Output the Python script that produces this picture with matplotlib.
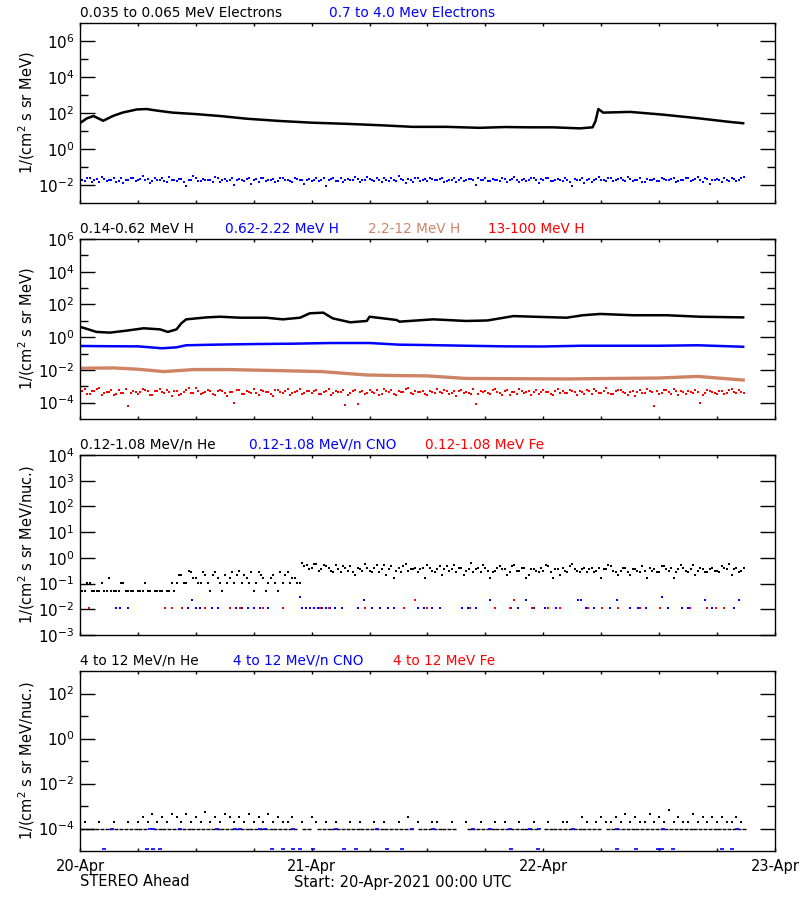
import numpy as np
import matplotlib
matplotlib.use("Agg")
import matplotlib.pyplot as plt
from matplotlib.ticker import FixedLocator, NullFormatter, LogFormatterSciNotation

# ---- data (hours after 20-Apr-2021 00:00 UTC) ----
nan = np.nan
t_half = np.arange(0, 69, 0.5)  # 30-min grid, 0 .. 68.5 h; "_b" series sit 15 min later

# panel 1: 0.035-0.065 MeV electrons (smooth)
e_lo_t = [0, 0.7, 1.4, 2.4, 3.4, 4.4, 5.9, 6.9, 8, 9.6, 12, 14.5, 17.3, 20.7, 24, 27.6, 31, 34.5,
          38, 41.4, 44, 46.6, 49, 51.8, 53.1, 53.4, 53.7, 54.2, 57, 60.4, 63.9, 67.3, 68.7]
e_lo = [27.5, 50, 68, 37, 68, 105, 158, 166, 135, 105, 87, 68, 48, 36, 29, 25, 21, 17,
        17, 15, 16.6, 16, 16, 14, 16, 35, 166, 105, 115, 81, 52, 32, 27]

# panel 1: 0.7-4.0 MeV electrons
e_hi = [0.022, 0.016, 0.026, 0.018, 0.015, 0.021, 0.019, 0.024, 0.017, 0.013, 0.020, 0.023,
        0.018, 0.030, 0.021, 0.016, 0.019, 0.025, 0.014, 0.020, 0.017, 0.022, 0.009, 0.019,
        0.024, 0.016, 0.020, 0.018, 0.027, 0.015, 0.021, 0.019, 0.010, 0.022, 0.017, 0.025,
        0.019, 0.014, 0.023, 0.018, 0.021, 0.016, 0.026, 0.019, 0.015, 0.022, 0.018, 0.020,
        0.017, 0.024, 0.019, 0.009, 0.021, 0.016, 0.023, 0.018, 0.020, 0.027, 0.015, 0.019,
        0.022, 0.017, 0.020, 0.025, 0.016, 0.019, 0.030, 0.018, 0.021, 0.015, 0.024, 0.019,
        0.016, 0.022, 0.019, 0.026, 0.017, 0.020, 0.014, 0.023, 0.019, 0.021, 0.010, 0.018,
        0.024, 0.017, 0.020, 0.016, 0.022, 0.019, 0.028, 0.015, 0.021, 0.018, 0.023, 0.013,
        0.019, 0.025, 0.017, 0.021, 0.016, 0.020, 0.009, 0.018, 0.024, 0.019, 0.015, 0.022,
        0.020, 0.017, 0.026, 0.019, 0.023, 0.016, 0.021, 0.018, 0.024, 0.015, 0.020, 0.022,
        0.017, 0.021, 0.019, 0.025, 0.016, 0.020, 0.023, 0.018, 0.027, 0.015, 0.021, 0.019,
        0.022, 0.014, 0.020, 0.024, 0.017, 0.026]
e_hi_b = [0.019, 0.024, 0.015, 0.021, 0.028, 0.017, 0.020, 0.014, 0.023, 0.019, 0.026, 0.016,
          0.021, 0.018, 0.013, 0.024, 0.020, 0.017, 0.027, 0.019, 0.022, 0.015, 0.020, 0.031,
          0.017, 0.021, 0.019, 0.014, 0.023, 0.020, 0.016, 0.025, 0.019, 0.018, 0.022, 0.012,
          0.021, 0.026, 0.017, 0.020, 0.015, 0.023, 0.019, 0.016, 0.024, 0.020, 0.011, 0.022,
          0.020, 0.016, 0.023, 0.019, 0.025, 0.017, 0.014, 0.021, 0.018, 0.022, 0.020, 0.029,
          0.018, 0.023, 0.015, 0.020, 0.024, 0.017, 0.021, 0.013, 0.019, 0.026, 0.016, 0.022,
          0.023, 0.018, 0.021, 0.015, 0.020, 0.025, 0.019, 0.016, 0.022, 0.018, 0.024, 0.020,
          0.016, 0.021, 0.019, 0.026, 0.014, 0.022, 0.018, 0.020, 0.017, 0.025, 0.019, 0.021,
          0.023, 0.016, 0.020, 0.018, 0.024, 0.015, 0.021, 0.019, 0.013, 0.022, 0.018, 0.027,
          0.018, 0.024, 0.016, 0.021, 0.019, 0.028, 0.017, 0.020, 0.015, 0.022, 0.019, 0.016,
          0.024, 0.018, 0.022, 0.015, 0.020, 0.024, 0.017, 0.021, 0.019, 0.023, 0.012, 0.020,
          0.018, 0.025, 0.016, 0.021, 0.019, 0.028]

# panel 2: protons
h1_t = [0, 0.2, 1.7, 3.1, 4.8, 6.6, 8.3, 9.1, 10, 10.5, 11, 13.1, 14.5, 16.6, 19.3, 21, 22.8, 23.8,
        25.2, 25.9, 26.2, 28, 29.7, 30, 32.8, 33.1, 36.6, 40, 42.2, 43.5, 44.9, 47, 50.4, 52.1,
        53.9, 57.3, 60.8, 64.2, 68.7]
h1 = [4.2, 4.0, 2.1, 1.9, 2.5, 3.5, 3.0, 2.1, 3.0, 7.1, 12.3, 16.2, 17.8, 15.5, 15.5, 12.3, 15.5, 28.8,
      31.6, 17.8, 14.1, 8.1, 9.8, 17.8, 11.2, 8.9, 12.3, 9.8, 10.5, 14.1, 19.5, 17.8, 15.5, 21.9,
      26.3, 21.9, 21.9, 17.8, 16.2]

h2_t = [0, 3, 6, 8.5, 10, 11, 14, 18, 22, 26, 30, 33, 36, 40, 44, 48, 52, 56, 60, 64, 68.7]
h2 = [0.29, 0.28, 0.275, 0.21, 0.24, 0.32, 0.35, 0.38, 0.40, 0.44, 0.44, 0.35, 0.33, 0.30, 0.275,
      0.27, 0.30, 0.30, 0.30, 0.32, 0.26]

h3_t = [0, 3.5, 6, 8.7, 11.8, 15.3, 20, 25, 29.7, 33, 36, 40, 45, 50.4, 55, 60, 64, 68.7]
h3 = [0.0126, 0.0132, 0.011, 0.0079, 0.0105, 0.0105, 0.0092, 0.0079, 0.0049, 0.0045, 0.0043,
      0.0030, 0.0029, 0.0028, 0.0030, 0.0032, 0.0040, 0.0024]

h4 = [4.5e-4, 6.8e-4, 3.2e-4, 5.1e-4, 8.0e-4, 3.8e-4, 4.4e-4, 2.9e-4, 5.9e-4, 4.0e-4, 0.6e-4, 5.3e-4,
      3.6e-4, 7.2e-4, 4.8e-4, 3.0e-4, 5.5e-4, 4.2e-4, 6.3e-4, 2.7e-4, 4.9e-4, 3.5e-4, 5.8e-4, 4.1e-4,
      7.5e-4, 3.3e-4, 4.6e-4, 5.2e-4, 2.8e-4, 6.1e-4, 3.9e-4, 4.7e-4, 0.9e-4, 5.6e-4, 3.4e-4, 4.3e-4,
      6.6e-4, 3.1e-4, 5.0e-4, 4.4e-4, 2.6e-4, 5.7e-4, 4.0e-4, 7.0e-4, 3.7e-4, 4.8e-4, 3.2e-4, 5.4e-4,
      4.1e-4, 6.2e-4, 3.5e-4, 4.9e-4, 2.9e-4, 5.3e-4, 4.5e-4, 0.7e-4, 3.8e-4, 6.0e-4, 4.3e-4, 3.3e-4,
      5.6e-4, 4.0e-4, 2.8e-4, 6.9e-4, 4.6e-4, 3.6e-4, 5.1e-4, 4.2e-4, 8.2e-4, 3.4e-4, 4.7e-4, 5.5e-4,
      3.0e-4, 4.4e-4, 6.4e-4, 3.8e-4, 5.0e-4, 4.1e-4, 2.7e-4, 5.8e-4, 4.5e-4, 3.6e-4, 0.8e-4, 5.2e-4,
      4.8e-4, 3.2e-4, 6.5e-4, 4.0e-4, 5.4e-4, 2.9e-4, 4.6e-4, 7.1e-4, 3.7e-4, 5.0e-4, 4.3e-4, 3.5e-4,
      5.9e-4, 4.2e-4, 3.1e-4, 6.7e-4, 4.8e-4, 3.9e-4, 5.3e-4, 2.8e-4, 4.4e-4, 6.0e-4, 3.6e-4, 5.1e-4,
      4.0e-4, 7.8e-4, 3.3e-4, 4.9e-4, 5.6e-4, 3.8e-4, 4.5e-4, 2.6e-4, 6.2e-4, 4.1e-4, 5.0e-4, 0.6e-4,
      3.4e-4, 5.7e-4, 4.3e-4, 6.6e-4, 3.0e-4, 4.7e-4, 5.2e-4, 3.9e-4, 4.4e-4, 2.9e-4, 6.1e-4, 4.6e-4,
      3.5e-4, 5.3e-4, 4.0e-4, 6.8e-4, 3.7e-4, 4.2e-4]
h4_b = [5.2e-4, 3.6e-4, 4.8e-4, 7.1e-4, 3.0e-4, 4.5e-4, 5.9e-4, 3.4e-4, 4.1e-4, 6.5e-4, 3.8e-4, 4.7e-4,
        4.3e-4, 5.8e-4, 2.9e-4, 4.9e-4, 6.7e-4, 3.7e-4, 4.2e-4, 5.4e-4, 3.1e-4, 4.6e-4, 7.4e-4, 3.9e-4,
        5.0e-4, 4.0e-4, 6.3e-4, 3.2e-4, 4.8e-4, 5.5e-4, 2.7e-4, 4.4e-4, 6.0e-4, 3.6e-4, 5.2e-4, 4.1e-4,
        3.9e-4, 5.7e-4, 4.3e-4, 3.3e-4, 6.1e-4, 4.6e-4, 5.1e-4, 3.0e-4, 4.5e-4, 6.8e-4, 3.9e-4, 4.9e-4,
        5.5e-4, 3.4e-4, 4.7e-4, 6.4e-4, 3.8e-4, 4.2e-4, 5.6e-4, 3.1e-4, 4.9e-4, 0.8e-4, 5.3e-4, 4.0e-4,
        4.4e-4, 6.3e-4, 3.5e-4, 4.8e-4, 5.7e-4, 2.8e-4, 4.3e-4, 6.6e-4, 3.9e-4, 5.1e-4, 4.2e-4, 3.4e-4,
        5.1e-4, 3.7e-4, 4.6e-4, 6.2e-4, 3.3e-4, 4.8e-4, 5.5e-4, 3.9e-4, 4.1e-4, 7.0e-4, 3.5e-4, 4.4e-4,
        3.8e-4, 5.6e-4, 4.2e-4, 3.1e-4, 6.0e-4, 4.5e-4, 3.6e-4, 5.2e-4, 4.7e-4, 2.9e-4, 5.8e-4, 4.3e-4,
        4.6e-4, 3.3e-4, 5.5e-4, 4.1e-4, 3.7e-4, 6.3e-4, 4.4e-4, 5.0e-4, 3.2e-4, 4.8e-4, 6.9e-4, 3.8e-4,
        5.3e-4, 4.0e-4, 3.5e-4, 5.9e-4, 4.3e-4, 3.0e-4, 5.1e-4, 4.6e-4, 3.8e-4, 6.4e-4, 4.2e-4, 5.0e-4,
        4.1e-4, 6.2e-4, 3.6e-4, 4.9e-4, 5.4e-4, 3.2e-4, 4.5e-4, 5.8e-4, 0.9e-4, 4.0e-4, 5.3e-4, 3.7e-4,
        4.8e-4, 3.4e-4, 5.6e-4, 4.2e-4, 6.1e-4, 3.9e-4]

# panel 3: 0.12-1.08 MeV/n ions
he_lo = [0.107, 0.053, 0.107, 0.053, 0.053, 0.053, 0.16, 0.053, 0.053, 0.107, 0.053, 0.053,
         0.053, 0.053, 0.053, nan, 0.053, 0.053, 0.053, 0.107,
         0.107, 0.21, 0.107, 0.27, 0.16, 0.107, 0.21, 0.053, 0.27, 0.107, 0.21, 0.16, 0.107,
         0.32, 0.21, 0.107, 0.053, 0.27, 0.16, 0.107, 0.21, 0.053, 0.107, 0.27, 0.16, 0.107,
         0.64, 0.53, 0.42, 0.58, 0.37, 0.48, 0.32, 0.53, 0.27, 0.42, 0.48, 0.21,
         0.37, 0.58, 0.32, 0.42, 0.27, 0.53, 0.37, 0.16, 0.42, 0.48, 0.32, 0.37,
         0.27, 0.42, 0.53, 0.32, 0.37, 0.21, 0.48, 0.37, 0.27, 0.42, 0.32, 0.64,
         0.37, 0.27, 0.42, 0.16, 0.32, 0.48, 0.37, 0.27, 0.53, 0.32, 0.42, 0.21,
         0.37, 0.27, 0.32, 0.48, 0.16, 0.37, 0.42, 0.27, 0.58, 0.32, 0.37, 0.27,
         0.42, 0.32, 0.16, 0.37, 0.48, 0.27, 0.32, 0.42, 0.21, 0.37, 0.27, 0.32,
         0.42, 0.37, 0.27, 0.48, 0.32, 0.16, 0.37, 0.42, 0.27, 0.53, 0.32, 0.37,
         0.27, 0.42, 0.32, 0.48, 0.37, 0.21, 0.42, 0.32]
he_lo_b = [0.053, 0.107, 0.053, 0.053, 0.107, 0.053, 0.053, 0.053, 0.107, 0.053, 0.053, nan,
           0.053, 0.107, 0.053, 0.053, 0.053, nan, 0.053, 0.053,
           0.21, 0.107, 0.32, 0.16, 0.107, 0.27, 0.107, 0.21, 0.16, 0.053, 0.107, 0.27, 0.21,
           0.107, 0.16, 0.27, 0.107, 0.21, 0.053, 0.16, 0.107, 0.27, 0.21, 0.107, 0.16, 0.107,
           0.48, 0.37, 0.58, 0.32, 0.53, 0.42, 0.27, 0.37, 0.48, 0.32, 0.27, 0.42,
           0.32, 0.42, 0.27, 0.53, 0.37, 0.21, 0.48, 0.32, 0.27, 0.58, 0.37, 0.42,
           0.37, 0.16, 0.42, 0.27, 0.48, 0.37, 0.32, 0.53, 0.42, 0.21, 0.37, 0.27,
           0.42, 0.53, 0.32, 0.27, 0.42, 0.37, 0.21, 0.48, 0.32, 0.42, 0.16, 0.37,
           0.32, 0.42, 0.53, 0.27, 0.37, 0.21, 0.32, 0.48, 0.37, 0.27, 0.42, 0.37,
           0.27, 0.42, 0.37, 0.53, 0.32, 0.21, 0.42, 0.27, 0.37, 0.32, 0.48, 0.16,
           0.32, 0.27, 0.48, 0.37, 0.42, 0.27, 0.53, 0.32, 0.37, 0.21, 0.42, 0.27,
           0.37, 0.32, 0.27, 0.42, 0.58, 0.37, 0.27, 0.42]

cno_lo_t = [0.9, 3.7, 4.1, 5.0, 11.2, 11.6, 12.0, 12.4, 12.9, 13.7, 14.3, 16.2, 16.8, 17.4, 18.0,
            18.6, 19.5, 22.8, 23.0, 23.4, 23.8, 24.2, 24.7, 25.1, 25.5, 25.9, 26.4, 27.1, 28.8, 29.4,
            30.2, 31.1, 31.9, 32.5, 35.0, 35.6, 36.5, 37.3, 39.6, 40.2, 41.0, 42.5, 44.7, 45.4,
            46.2, 47.0, 48.2, 49.3, 51.6, 51.9, 52.4, 53.2, 54.1, 54.9, 55.6, 57.0, 57.8, 58.6,
            60.3, 60.9, 62.4, 63.0, 64.8, 65.5, 67.8, 68.3]
cno_lo = [0.0115, 0.0115, 0.0115, 0.0115, 0.0115, 0.022, 0.0115, 0.0115, 0.0115, 0.0115, 0.0115,
          0.0115, 0.0115, 0.0115, 0.0115, 0.0115, 0.0115, 0.030, 0.0115, 0.0115, 0.0115, 0.0115,
          0.0115, 0.0115, 0.0115, 0.0115, 0.0115, 0.0115, 0.0115, 0.022, 0.0115, 0.0115, 0.0115,
          0.0115, 0.0115, 0.0115, 0.0115, 0.0115, 0.0115, 0.0115, 0.0115, 0.022, 0.0115, 0.0115,
          0.022, 0.0115, 0.0115, 0.0115, 0.022, 0.022, 0.0115, 0.0115, 0.0115, 0.0115, 0.022,
          0.0115, 0.0115, 0.0115, 0.030, 0.0115, 0.0115, 0.0115, 0.022, 0.0115, 0.0115, 0.022]

fe_lo_t = [0.9, 8.8, 9.5, 10.6, 12.9, 15.5, 16.6, 19.0, 21.0, 24.9, 25.8, 29.5, 33.6, 34.7, 36.0,
           40.4, 43.0, 44.5, 45.0, 46.8, 48.5, 49.7, 52.6, 54.1, 55.7, 58.0, 60.1, 63.2, 65.0,
           65.9, 66.7]
fe_lo = [0.0115, 0.0115, 0.0115, 0.0115, 0.0115, 0.0115, 0.0115, 0.0115, 0.0115, 0.0115, 0.0115,
         0.0115, 0.0115, 0.022, 0.0115, 0.0115, 0.0115, 0.0115, 0.022, 0.0115, 0.0115, 0.0115,
         0.0115, 0.0115, 0.0115, 0.0115, 0.0115, 0.0115, 0.0115, 0.0115, 0.0115]

# panel 4: 4-12 MeV/n ions
he_hi = [nan, 1.9e-4, nan, nan, 1.9e-4, nan, nan, 1.9e-4, nan, nan, 1.9e-4, nan,
         1.9e-4, 3.2e-4, 1.9e-4, 4.5e-4, 1.9e-4, 3.2e-4, 1.9e-4, 4.5e-4, 3.2e-4, 1.9e-4, 4.5e-4, 1.9e-4,
         3.2e-4, 1.9e-4, 5.5e-4, 1.9e-4, 3.2e-4, 1.9e-4, 4.5e-4, 3.2e-4, 1.9e-4, 3.2e-4, 1.9e-4, 4.5e-4,
         1.9e-4, 3.2e-4, 1.9e-4, 4.5e-4, 1.9e-4, 3.2e-4, 1.9e-4, 1.9e-4, 3.2e-4, nan, 1.9e-4, nan,
         3.2e-4, 1.9e-4, nan, 1.9e-4, nan, 1.9e-4, nan, nan, 1.9e-4, nan, 1.9e-4, nan,
         nan, 1.9e-4, nan, 1.9e-4, nan, nan, 1.9e-4, nan, 3.2e-4, nan, 1.9e-4, nan,
         nan, 1.9e-4, 1.9e-4, nan, nan, 1.9e-4, nan, nan, 1.9e-4, nan, nan, 1.9e-4,
         nan, nan, 1.9e-4, nan, 1.9e-4, nan, nan, 1.9e-4, nan, nan, 1.9e-4, nan,
         nan, 1.9e-4, nan, nan, 1.9e-4, 1.9e-4, nan, nan, 3.2e-4, 1.9e-4, nan, 1.9e-4,
         3.2e-4, 1.9e-4, 1.9e-4, 3.2e-4, 1.9e-4, 4.5e-4, 1.9e-4, 3.2e-4, 1.9e-4, 1.9e-4, 4.5e-4, 1.9e-4,
         3.2e-4, 1.9e-4, 6.5e-4, 1.9e-4, 3.2e-4, 1.9e-4, 1.9e-4, 4.5e-4, 1.9e-4, 3.2e-4, 1.9e-4, 3.2e-4,
         1.9e-4, 3.2e-4, 1.9e-4, 1.9e-4, 3.2e-4, 1.9e-4]
# one-count level, sampled between the points above
he_hi_base = [1e-4] * 14 + [nan] + [1e-4] * 30 + [nan, 1e-4, 1e-4, nan] + [1e-4] * 20 + [nan] \
    + [1e-4] * 8 + [nan, nan] + [1e-4] * 15 + [nan] + [1e-4] * 12 + [nan] + [1e-4] * 29

cno_hi_t = [3.3, 7.3, 7.6, 10.4, 14.2, 16.1, 16.6, 18.6, 19.2, 22.1, 26.5, 30.8, 34.4, 36.6, 40.7,
            42.5, 44.5, 46.6, 47.6, 51.1, 55.6, 60.4, 68.1,
            2.5, 6.9, 7.6, 8.3, 19.9, 21.0, 22.1, 22.8, 24.1, 27.4, 28.6, 31.8, 33.4, 44.7, 47.4,
            55.6, 57.6, 59.9, 60.3, 61.4, 66.5, 67.5]
cno_hi = [1e-4] * 23 + [1.2e-5] * 22

BROWN = "#cd8464"

titles = [
    [("0.035 to 0.065 MeV Electrons", "black", 80), ("0.7 to 4.0 Mev Electrons", "blue", 329)],
    [("0.14-0.62 MeV H", "black", 80), ("0.62-2.22 MeV H", "blue", 225),
     ("2.2-12 MeV H", BROWN, 368), ("13-100 MeV H", "red", 488)],
    [("0.12-1.08 MeV/n He", "black", 80), ("0.12-1.08 MeV/n CNO", "blue", 249),
     ("0.12-1.08 MeV Fe", "red", 425)],
    [("4 to 12 MeV/n He", "black", 80), ("4 to 12 MeV/n CNO", "blue", 233),
     ("4 to 12 MeV Fe", "red", 393)],
]
ylims = [(1e-3, 1e7), (1e-5, 1e6), (1e-3, 1e4), (1e-5, 1e3)]
ymajor = [[1e-2, 1, 1e2, 1e4, 1e6], [1e-4, 1e-2, 1, 1e2, 1e4, 1e6],
          [1e-3, 1e-2, 1e-1, 1, 1e1, 1e2, 1e3, 1e4], [1e-4, 1e-2, 1, 1e2]]
yminor = [[1e-1, 1e1, 1e3, 1e5], [1e-3, 1e-1, 1e1, 1e3, 1e5], [], [1e-3, 1e-1, 1e1]]
ylabels = ["1/(cm$^2$ s sr MeV)", "1/(cm$^2$ s sr MeV)",
           "1/(cm$^2$ s sr MeV/nuc.)", "1/(cm$^2$ s sr MeV/nuc.)"]

fig = plt.figure(figsize=(8, 9), dpi=100)
tops = [23, 239, 455, 671]
axes = []
for i, top in enumerate(tops):
    ax = fig.add_axes([80 / 800, 1 - (top + 180) / 900, 695 / 800, 180 / 900])
    axes.append(ax)
    ax.set_yscale("log")
    ax.set_ylim(*ylims[i])
    ax.set_xlim(0, 72)
    ax.yaxis.set_major_locator(FixedLocator(ymajor[i]))
    ax.yaxis.set_minor_locator(FixedLocator(yminor[i]))
    ax.yaxis.set_major_formatter(LogFormatterSciNotation())
    ax.yaxis.set_minor_formatter(NullFormatter())
    ax.xaxis.set_major_locator(FixedLocator(np.arange(0, 73, 24)))
    ax.xaxis.set_minor_locator(FixedLocator(np.arange(6, 72, 6)))
    ax.tick_params(axis="y", which="major", direction="in", length=11, width=1,
                   left=True, right=True, labelsize=11, pad=4)
    ax.tick_params(axis="y", which="minor", direction="in", length=5.5, width=1,
                   left=True, right=True)
    ax.tick_params(axis="x", which="both", direction="in", length=2.5, width=1,
                   top=True, bottom=True, labelbottom=(i == 3), labelsize=10.5, pad=6)
    for s in ax.spines.values():
        s.set_linewidth(1)
    ax.set_ylabel(ylabels[i], fontsize=10.5)
    ax.yaxis.set_label_coords(-0.062, 0.5)
    ytxt = 1 - (top - 10) / 900
    for txt, col, xpx in titles[i]:
        fig.text(xpx / 800, ytxt, txt, color=col, fontsize=9.8, va="center", ha="left")

mk = dict(marker="s", ms=2, mew=0, ls="none")

ax = axes[0]
ax.plot(e_lo_t, e_lo, color="black", lw=1.8)
ax.plot(t_half, e_hi, color="blue", **mk)
ax.plot(t_half + 0.25, e_hi_b, color="blue", **mk)

ax = axes[1]
ax.plot(h1_t, h1, color="black", lw=1.8)
ax.plot(h2_t, h2, color="blue", lw=1.8)
ax.plot(h3_t, h3, color=BROWN, lw=2.4)
ax.plot(t_half, h4, color="red", **mk)
ax.plot(t_half + 0.25, h4_b, color="red", **mk)

ax = axes[2]
ax.plot(t_half, he_lo, color="black", **mk)
ax.plot(t_half + 0.25, he_lo_b, color="black", **mk)
ax.plot(cno_lo_t, cno_lo, color="blue", **mk)
ax.plot(fe_lo_t, fe_lo, color="red", **mk)

ax = axes[3]
ax.plot(t_half + 0.25, he_hi_base, color="black", marker="_", ms=3, mew=1, ls="none")
ax.plot(t_half, he_hi, color="black", **mk)
ax.plot(cno_hi_t, cno_hi, color="blue", marker="_", ms=3, mew=1.2, ls="none")
ax.set_xticklabels(["20-Apr", "21-Apr", "22-Apr", "23-Apr"])

fig.text(80 / 800, 1 - 882 / 900, "STEREO Ahead", fontsize=10.5, va="center", ha="left")
fig.text(294 / 800, 1 - 882 / 900, "Start: 20-Apr-2021 00:00 UTC", fontsize=10.5,
         va="center", ha="left")

fig.savefig("out.png", dpi=100)
